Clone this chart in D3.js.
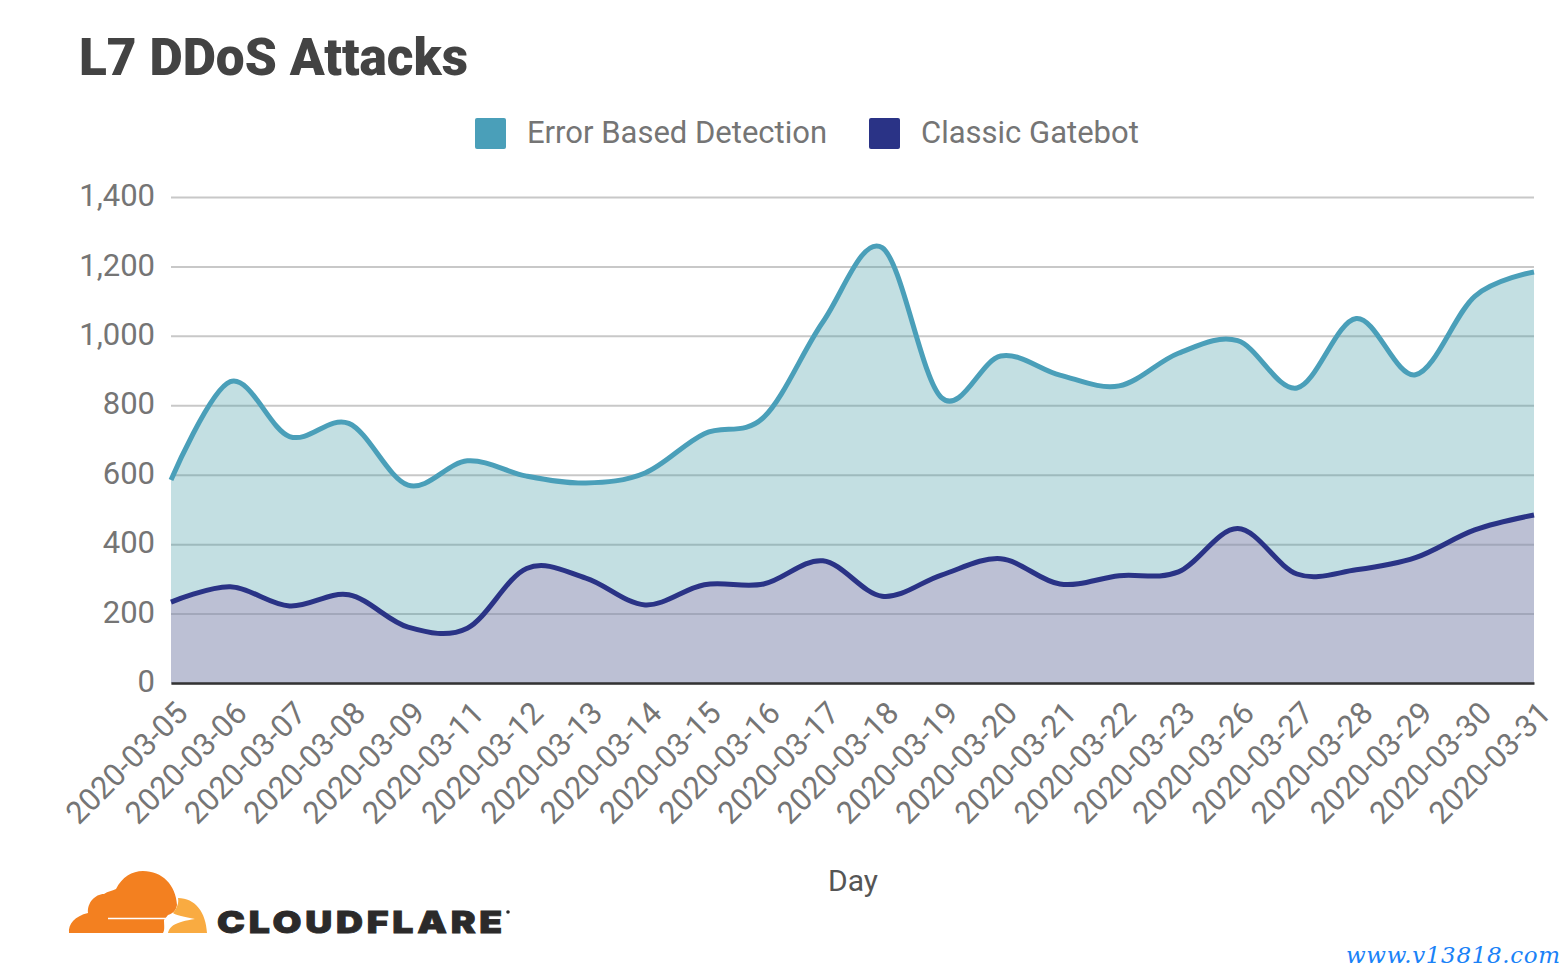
<!DOCTYPE html>
<html>
<head>
<meta charset="utf-8">
<script src="https://cdn.jsdelivr.net/npm/d3@7"></script>
<style>
html, body { margin: 0; padding: 0; background: #fff; }
svg { display: block; }
text { font-family: Roboto, sans-serif; }
</style>
</head>
<body>
<svg id="chart" width="1564" height="972"></svg>
<script>
var days = ["2020-03-05", "2020-03-06", "2020-03-07", "2020-03-08", "2020-03-09", "2020-03-11",
    "2020-03-12", "2020-03-13", "2020-03-14", "2020-03-15", "2020-03-16", "2020-03-17",
    "2020-03-18", "2020-03-19", "2020-03-20", "2020-03-21", "2020-03-22", "2020-03-23",
    "2020-03-26", "2020-03-27", "2020-03-28", "2020-03-29", "2020-03-30", "2020-03-31"];
var error_based = [585, 868, 710, 748, 570, 640, 596, 576, 605, 718, 765, 1040,
    1254, 822, 942, 887, 856, 950, 986, 850, 1050, 888, 1114, 1184];
var classic = [233, 277, 222, 254, 161, 158, 330, 302, 225, 283, 285, 352,
    250, 311, 358, 285, 309, 320, 445, 314, 326, 361, 441, 484];
var y_ticks = [0, 200, 400, 600, 800, 1000, 1200, 1400];
var legend_names = ["Error Based Detection", "Classic Gatebot"];

var svg = d3.select("#chart");
var x = d3.scalePoint().domain(days).range([171, 1534]);
var y = d3.scaleLinear().domain([0, 1400]).range([683, 197]);
var curve = d3.curveCardinal.tension(0);

// title
svg.append("text").attr("x", 79).attr("y", 75)
    .attr("font-size", 51).attr("font-weight", 900).attr("fill", "#434343")
    .attr("textLength", 389).attr("lengthAdjust", "spacingAndGlyphs")
    .text("L7 DDoS Attacks");

// legend
var legend_x = [475, 869];
var legend_colours = ["#4a9fb9", "#2a3386"];
legend_names.forEach(function (name, i) {
    svg.append("rect").attr("x", legend_x[i]).attr("y", 118).attr("width", 31).attr("height", 31)
        .attr("rx", 2).attr("fill", legend_colours[i]);
    svg.append("text").attr("x", legend_x[i] + 52).attr("y", 143)
        .attr("font-size", 31).attr("fill", "#757575").text(name);
});

// grid
var y_axis = d3.axisLeft(y).tickValues(y_ticks).tickSize(-1363).tickPadding(16)
    .tickFormat(d3.format(","));
var y_g = svg.append("g").attr("transform", "translate(171,0)").call(y_axis);
y_g.select(".domain").remove();
y_g.selectAll("line").attr("stroke", "#c8c8c8").attr("stroke-width", 2);
y_g.selectAll("text").attr("font-size", 31).attr("fill", "#757575")
    .attr("font-family", "Roboto, sans-serif").attr("dy", "0.28em");

// areas
function draw_series(values, colour, fill, opacity) {
    var area = d3.area().curve(curve)
        .x(function (d, i) { return x(days[i]); })
        .y0(y(0))
        .y1(function (d) { return y(d); });
    var line = d3.line().curve(curve)
        .x(function (d, i) { return x(days[i]); })
        .y(function (d) { return y(d); });
    svg.append("path").datum(values).attr("d", area).attr("fill", fill).attr("fill-opacity", opacity);
    return function () {
        svg.append("path").datum(values).attr("d", line).attr("fill", "none")
            .attr("stroke", colour).attr("stroke-width", 5).attr("stroke-linejoin", "round");
    };
}
var line_error = draw_series(error_based, legend_colours[0], "#4a9fa7", 0.33);
var line_classic = draw_series(classic, legend_colours[1], "#ac7cb3", 0.3);
line_error();
line_classic();

// x axis
var x_axis = d3.axisBottom(x).tickSize(0).tickPadding(0);
var x_g = svg.append("g").attr("transform", "translate(0,683)").call(x_axis);
x_g.select(".domain").attr("stroke", "#333").attr("stroke-width", 2.5);
x_g.selectAll("text")
    .attr("font-size", 31).attr("fill", "#757575").attr("font-family", "Roboto, sans-serif")
    .attr("text-anchor", "end").attr("dy", 0)
    .attr("transform", "translate(18,32) rotate(-45)");

svg.append("text").attr("x", 853).attr("y", 891).attr("text-anchor", "middle")
    .attr("font-size", 30).attr("fill", "#555").text("Day");

// logo
var logo = svg.append("g").attr("transform", "translate(40,850)");
logo.append("path").attr("fill", "#f38020")
    .attr("d", "M29,83 C28,74 35,66 48,63 C47,53 55,44 64,44 C68,41 72,41 76,39 C82,27 92,21 103,21 C122,21 136,35 137,55 C136,60 134,63 128,65 L124,70 C124,75 125,80 123,83 Z");
logo.append("path").attr("fill", "#f9ab41")
    .attr("d", "M138,48 C155,48 166,62 167,83 L128,83 C130,76 135,72 155,69 C145,67 135,65 133,63 C137,58 139,53 138,48 Z");
logo.append("path").attr("stroke", "#fff").attr("stroke-width", 1.6).attr("fill", "none").attr("d", "M68,68.5 L127,68.5");
logo.append("text").attr("x", 217).attr("y", 933).attr("transform", "translate(-40,-850)")
    .attr("font-size", 30).attr("font-weight", 900)
    .attr("fill", "#2b2a2a").attr("stroke", "#2b2a2a").attr("stroke-width", 0.8)
    .attr("textLength", 289).attr("lengthAdjust", "spacingAndGlyphs")
    .style("font-family", "Inter, sans-serif").style("letter-spacing", "3px").text("CLOUDFLARE");
logo.append("circle").attr("cx", 468).attr("cy", 62).attr("r", 1.8).attr("fill", "#2b2a2a");

// watermark
svg.append("text").attr("x", 1346).attr("y", 963)
    .style("font-family", "'DejaVu Serif', serif").attr("font-style", "italic")
    .attr("font-size", 23).attr("fill", "#1a82f7").attr("textLength", 214)
    .text("www.v13818.com");
</script>
</body>
</html>
